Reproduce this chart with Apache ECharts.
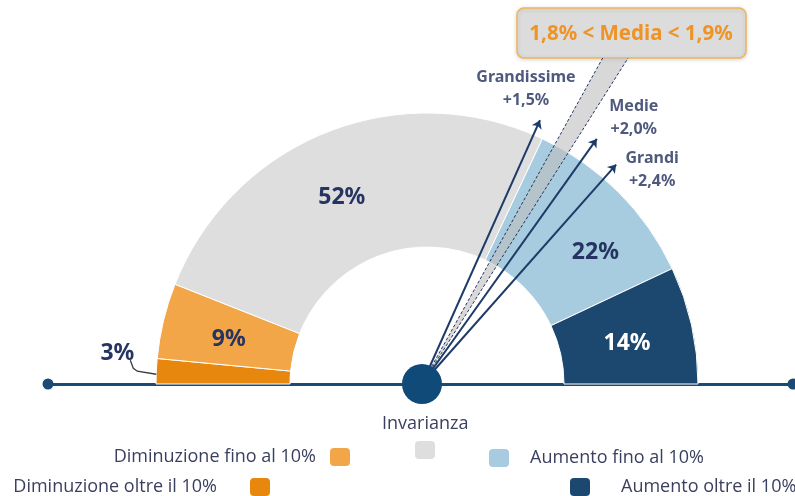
<!DOCTYPE html>
<html>
<head>
<meta charset="utf-8">
<title>Distribuzione delle variazioni</title>
<script src="https://cdn.jsdelivr.net/npm/echarts@6/dist/echarts.min.js"></script>
<style>
    html, body { margin: 0; padding: 0; background: #fff; }
    #chart { width: 795px; height: 496px; }
</style>
</head>
<body>
<div id="chart"></div>
<script>
// quote di imprese per classe di variazione
var categories = ['Diminuzione oltre il 10%', 'Diminuzione fino al 10%', 'Invarianza', 'Aumento fino al 10%', 'Aumento oltre il 10%'];
var shares = [3, 9, 52, 22, 14];
var colors = ['#e8870e', '#f2a647', '#dedede', '#a7cbdf', '#1c4870'];

// frecce per dimensione d'impresa (angolo in gradi, lunghezza)
var firmClasses = ['Grandissime', 'Medie', 'Grandi'];
var growth = ['+1,5%', '+2,0%', '+2,4%'];
var arrowAngles = [65.9, 54.5, 48.5];
var arrowLengths = [289, 301, 293];

// fascia della media
var mediaRange = ['1,8%', '1,9%'];
var mediaAngles = [61.0, 57.7];
var mediaHeight = 326;

var navy = '#263462';
var rad = Math.PI / 180;
var pieCenter = [427, 384];
var pieRadius = [137, 271];

function tip(i) {
    return [arrowLengths[i] * Math.cos(arrowAngles[i] * rad), arrowLengths[i] * Math.sin(arrowAngles[i] * rad)];
}

var pieData = categories.map(function (name, i) {
    return {
        name: name,
        value: shares[i],
        itemStyle: { color: colors[i] },
        // il 3% ha un'etichetta esterna disegnata a parte
        label: { show: i !== 0, color: i === 4 ? '#ffffff' : navy }
    };
});

var arrowData = firmClasses.map(function (name, i) {
    return { name: name, coords: [[0, 0], tip(i)] };
});

// posizione delle etichette rispetto alla punta
var labelOffsets = [[-14, -31], [37, -21], [36, 5]];
var arrowLabels = firmClasses.map(function (name, i) {
    return {
        name: name,
        value: tip(i),
        label: { offset: labelOffsets[i] }
    };
});

var wedge = mediaAngles.map(function (a) {
    return [mediaHeight / Math.tan(a * rad), mediaHeight];
});

var legendText = { color: '#3a3f5f', fontSize: 18, fontFamily: 'Open Sans' };

var myChart = echarts.init(document.getElementById('chart'));
var option = {
    animation: false,
    backgroundColor: '#ffffff',
    title: {
        text: 'Invarianza',
        left: 382,
        top: 415,
        padding: 0,
        textStyle: { color: '#3a3f5f', fontSize: 18, fontWeight: 'normal', fontFamily: 'Open Sans' }
    },
    legend: [
        { data: [categories[1]], right: 443, top: 446, align: 'right', padding: 0, itemWidth: 22, itemHeight: 20, icon: 'roundRect', selectedMode: false, textStyle: Object.assign({ padding: [0, 8, 0, 0] }, legendText) },
        { data: [categories[0]], right: 523, top: 476, align: 'right', padding: 0, itemWidth: 22, itemHeight: 20, icon: 'roundRect', selectedMode: false, textStyle: Object.assign({ padding: [0, 27, 0, 0] }, legendText) },
        { data: [categories[2]], left: 413, top: 439, padding: 0, itemWidth: 22, itemHeight: 20, icon: 'roundRect', selectedMode: false, formatter: function () { return ''; } },
        { data: [categories[3]], left: 487, top: 447, padding: 0, itemWidth: 22, itemHeight: 20, icon: 'roundRect', selectedMode: false, textStyle: Object.assign({ padding: [0, 0, 0, 15] }, legendText) },
        { data: [categories[4]], left: 568, top: 476, padding: 0, itemWidth: 22, itemHeight: 20, icon: 'roundRect', selectedMode: false, textStyle: Object.assign({ padding: [0, 0, 0, 25] }, legendText) }
    ],
    grid: { left: 48, right: 2, top: 0, bottom: 0 },
    xAxis: {
        type: 'value',
        min: -374,
        max: 371,
        axisLine: {
            show: true,
            onZero: true,
            symbol: ['circle', 'circle'],
            symbolSize: [11, 11],
            lineStyle: { color: '#1b4a74', width: 3 }
        },
        axisTick: { show: false },
        axisLabel: { show: false },
        splitLine: { show: false }
    },
    yAxis: {
        type: 'value',
        min: -112,
        max: 384,
        show: false
    },
    series: [
        {
            type: 'pie',
            z: 1,
            silent: true,
            center: pieCenter,
            radius: pieRadius,
            startAngle: 180,
            endAngle: 0,
            avoidLabelOverlap: false,
            itemStyle: { borderColor: '#ffffff', borderWidth: 1 },
            label: {
                show: true,
                position: 'inside',
                formatter: '{c}%',
                fontSize: 23,
                fontWeight: 'bold',
                fontFamily: 'Noto Sans'
            },
            labelLayout: function (params) {
                var shift = { 1: [3, 4], 2: [-9, 6], 3: [22, 15], 4: [-2, 5] }[params.dataIndex];
                if (shift) {
                    return { dx: shift[0], dy: shift[1] };
                }
            },
            data: pieData
        },
        {
            // etichetta esterna del primo settore con linea di richiamo
            type: 'custom',
            coordinateSystem: 'none',
            z: 2,
            silent: true,
            data: [shares[0]],
            renderItem: function (params, api) {
                var a = (180 - api.value(0) / 100 * 180 / 2) * rad;
                var p0 = [pieCenter[0] + pieRadius[1] * Math.cos(a), pieCenter[1] - pieRadius[1] * Math.sin(a) + 3];
                var p1 = [p0[0] - 19, p0[1] - 3];
                var p2 = [p1[0] - 4, p1[1] - 3];
                var p3 = [p2[0] - 3, p2[1] - 8];
                return {
                    type: 'group',
                    children: [
                        { type: 'polyline', shape: { points: [p0, p1, p2, p3] }, style: { stroke: '#3b3b40', lineWidth: 1.3, fill: null } },
                        {
                            type: 'text',
                            x: p3[0] + 4,
                            y: p3[1] - 7,
                            style: {
                                text: api.value(0) + '%',
                                fill: navy,
                                fontSize: 23,
                                fontWeight: 'bold',
                                fontFamily: 'Noto Sans',
                                align: 'right',
                                verticalAlign: 'middle'
                            }
                        }
                    ]
                };
            }
        },
        {
            // fascia della media
            type: 'custom',
            z: 3,
            silent: true,
            data: [0],
            renderItem: function (params, api) {
                var o = api.coord([0, 0]);
                var a = api.coord(wedge[0]);
                var b = api.coord(wedge[1]);
                return {
                    type: 'group',
                    children: [
                        { type: 'polygon', shape: { points: [o, a, b] }, style: { fill: 'rgba(190,190,190,0.6)' } },
                        { type: 'line', shape: { x1: o[0], y1: o[1], x2: a[0], y2: a[1] }, style: { stroke: navy, lineWidth: 1, lineDash: [3, 2] } },
                        { type: 'line', shape: { x1: o[0], y1: o[1], x2: b[0], y2: b[1] }, style: { stroke: navy, lineWidth: 1, lineDash: [3, 2] } }
                    ]
                };
            }
        },
        {
            type: 'lines',
            coordinateSystem: 'cartesian2d',
            z: 4,
            silent: true,
            symbol: ['none', 'arrow'],
            symbolSize: 8,
            lineStyle: { color: '#1e3a68', width: 2, opacity: 1 },
            data: arrowData
        },
        {
            type: 'scatter',
            z: 5,
            silent: true,
            symbolSize: 0,
            label: {
                show: true,
                position: 'inside',
                formatter: function (p) { return p.name + '\n' + growth[p.dataIndex]; },
                color: '#232f5c',
                fontSize: 16,
                fontWeight: 'bold',
                fontFamily: 'Noto Sans',
                lineHeight: 23,
                align: 'center'
            },
            data: arrowLabels
        },
        {
            // cerchio centrale
            type: 'scatter',
            z: 6,
            silent: true,
            symbolSize: 40,
            itemStyle: { color: '#0f4a78', opacity: 1 },
            data: [[0, 0]]
        }
    ],
    graphic: [
        {
            type: 'group',
            z: 10,
            children: [
                {
                    type: 'rect',
                    shape: { x: 517, y: 8, width: 229, height: 50, r: 7 },
                    style: { fill: '#dcdcdc', stroke: '#f2b35a', lineWidth: 1.5, shadowBlur: 4, shadowColor: 'rgba(0,0,0,0.15)', shadowOffsetY: 1 }
                },
                {
                    type: 'text',
                    x: 631,
                    y: 34,
                    style: {
                        text: mediaRange[0] + ' < Media < ' + mediaRange[1],
                        fill: '#ee9325',
                        fontSize: 20.5,
                        fontWeight: 'bold',
                        fontFamily: 'Noto Sans',
                        align: 'center',
                        verticalAlign: 'middle'
                    }
                }
            ]
        }
    ]
};
myChart.setOption(option);
</script>
</body>
</html>
